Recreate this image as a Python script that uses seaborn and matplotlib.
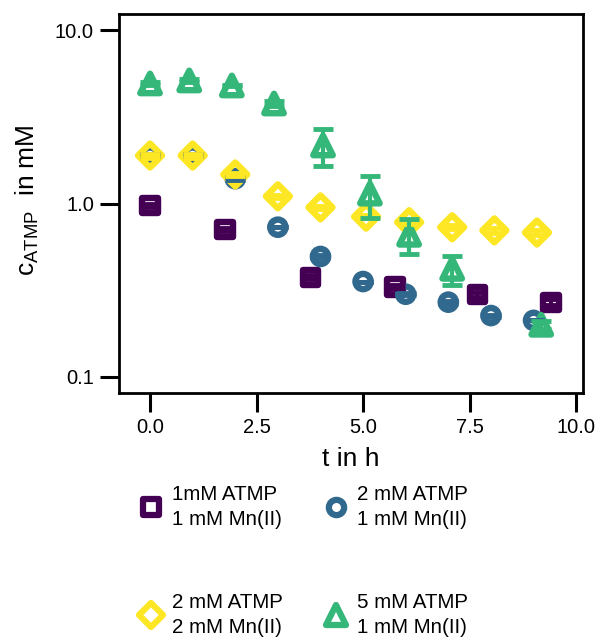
import matplotlib
matplotlib.use("Agg")
import matplotlib.pyplot as plt
from matplotlib.lines import Line2D
from matplotlib.markers import MarkerStyle
import numpy as np
import pandas as pd
import seaborn as sns

# ---------------- data ----------------
series_names = ["s1", "s2", "s3", "s4"]
legend_labels = {
    "s1": "1mM ATMP\n1 mM Mn(II)",
    "s2": "2 mM ATMP\n1 mM Mn(II)",
    "s3": "2 mM ATMP\n2 mM Mn(II)",
    "s4": "5 mM ATMP\n1 mM Mn(II)",
}
colors = ["#440154", "#31688e", "#fde725", "#35b779"]
marker_shapes = ["s", "o", "D", "^"]

t_s1 = [0.0, 1.76, 3.76, 5.75, 7.68, 9.41]
c_s1 = [0.97, 0.71, 0.375, 0.33, 0.30, 0.27]
e_s1 = [0.02, 0.015, 0.01, 0.01, 0.01, 0.01]

t_s2 = [0.0, 1.0, 2.0, 3.0, 4.0, 5.0, 6.0, 7.0, 8.0, 9.0]
c_s2 = [1.90, 1.90, 1.39, 0.73, 0.495, 0.355, 0.30, 0.27, 0.226, 0.212]
e_s2 = [0.03, 0.03, 0.03, 0.0, 0.01, 0.0, 0.005, 0.005, 0.003, 0.0]

t_s3 = [0.0, 1.0, 2.0, 3.0, 4.0, 5.07, 6.08, 7.09, 8.08, 9.08]
c_s3 = [1.89, 1.89, 1.47, 1.10, 0.95, 0.84, 0.78, 0.73, 0.70, 0.68]
e_s3 = [0.05, 0.05, 0.03, 0.02, 0.02, 0.02, 0.02, 0.02, 0.02, 0.02]

t_s4 = [0.0, 0.92, 1.92, 2.91, 4.06, 5.16, 6.08, 7.09, 9.18]
c_s4 = [4.92, 5.12, 4.79, 3.77, 2.16, 1.14, 0.66, 0.42, 0.20]
e_s4 = [0.08, 0.1, 0.05, 0.12, 0.52, 0.31, 0.15, 0.08, 0.01]

x_ticks = [0.0, 2.5, 5.0, 7.5, 10.0]
x_tick_labels = ["0.0", "2.5", "5.0", "7.5", "10.0"]
y_ticks = [0.1, 1.0, 10.0]
y_tick_labels = ["0.1", "1.0", "10.0"]

ts = [t_s1, t_s2, t_s3, t_s4]
cs = [c_s1, c_s2, c_s3, c_s4]
es = [e_s1, e_s2, e_s3, e_s4]

df = pd.concat(
    [pd.DataFrame({"t": t, "c": c, "err": e, "series": n})
     for n, t, c, e in zip(series_names, ts, cs, es)],
    ignore_index=True,
)

# ---------------- style ----------------
sns.set_theme(style="white")
plt.rcParams["font.family"] = ["Liberation Sans", "DejaVu Sans"]
plt.rcParams["mathtext.fontset"] = "custom"
plt.rcParams["mathtext.rm"] = "Liberation Sans"
plt.rcParams["text.color"] = "black"
plt.rcParams["axes.labelcolor"] = "black"
plt.rcParams["xtick.color"] = "black"
plt.rcParams["ytick.color"] = "black"

MEW = 4.6
msize = {"s": 11.0, "o": 11.0, "D": 12.2, "^": 14.0}

fig = plt.figure(figsize=(5.98, 6.37), dpi=100)
ax = fig.add_axes([119 / 598, 1 - 393 / 637, (583 - 119) / 598, (393 - 14) / 637])

palette = dict(zip(series_names, colors))
markers = dict(zip(series_names, marker_shapes))
size_map = {n: msize[m] ** 2 for n, m in zip(series_names, marker_shapes)}

sns.scatterplot(data=df, x="t", y="c", hue="series", style="series",
                size="series", sizes=size_map,
                palette=palette, markers=markers,
                legend=False, ax=ax, zorder=2)

for coll in ax.collections:
    fc = coll.get_facecolors()
    coll.set_edgecolors(fc)
    coll.set_facecolors("none")
    coll.set_linewidths(MEW)
    coll.set_joinstyle("round")

for n, col in zip(series_names, colors):
    sub = df[df["series"] == n]
    ax.errorbar(sub["t"], sub["c"], yerr=sub["err"], fmt="none",
                ecolor=col, elinewidth=3.0, capsize=7.5, capthick=3.5,
                zorder=3)

ax.set_yscale("log")
ax.set_xlim(-0.728, 10.16)
ax.set_ylim(10 ** (-1 - 16 / 173.5), 10 ** (1 + 16 / 173.5))
ax.set_xticks(x_ticks)
ax.set_xticklabels(x_tick_labels)
ax.set_yticks(y_ticks)
ax.set_yticklabels(y_tick_labels)
ax.yaxis.set_minor_locator(matplotlib.ticker.NullLocator())
ax.tick_params(axis="both", which="major", direction="out", length=14,
               width=2.2, labelsize=14.5, pad=4, left=True, bottom=True)

for sp in ax.spines.values():
    sp.set_color("black")
    sp.set_linewidth(2.0)

ax.set_xlabel("t in h", fontsize=19, labelpad=7)
ax.set_ylabel(r"c$_{\mathregular{ATMP}}$  in mM", fontsize=19)
ax.yaxis.set_label_coords(-0.168, 0.51)

# ---------------- legend ----------------
order = [0, 2, 1, 3]
handles = []
labels = []
for i in order:
    m = marker_shapes[i]
    handles.append(Line2D([], [], linestyle="", marker=MarkerStyle(m, joinstyle="round"),
                          markersize=msize[m], markeredgewidth=4.5,
                          markeredgecolor=colors[i], markerfacecolor="white"))
    labels.append(legend_labels[series_names[i]])

leg = fig.legend(handles, labels, ncol=2, frameon=False,
                 loc="upper left", bbox_to_anchor=(141 / 598, 1 - 485 / 637),
                 borderaxespad=0, borderpad=0, fontsize=14.8,
                 handlelength=1.0, handletextpad=0.5, columnspacing=2.1,
                 labelspacing=3.1)
for txt in leg.get_texts():
    txt.set_linespacing(1.4)

fig.savefig("out.png", dpi=100)
